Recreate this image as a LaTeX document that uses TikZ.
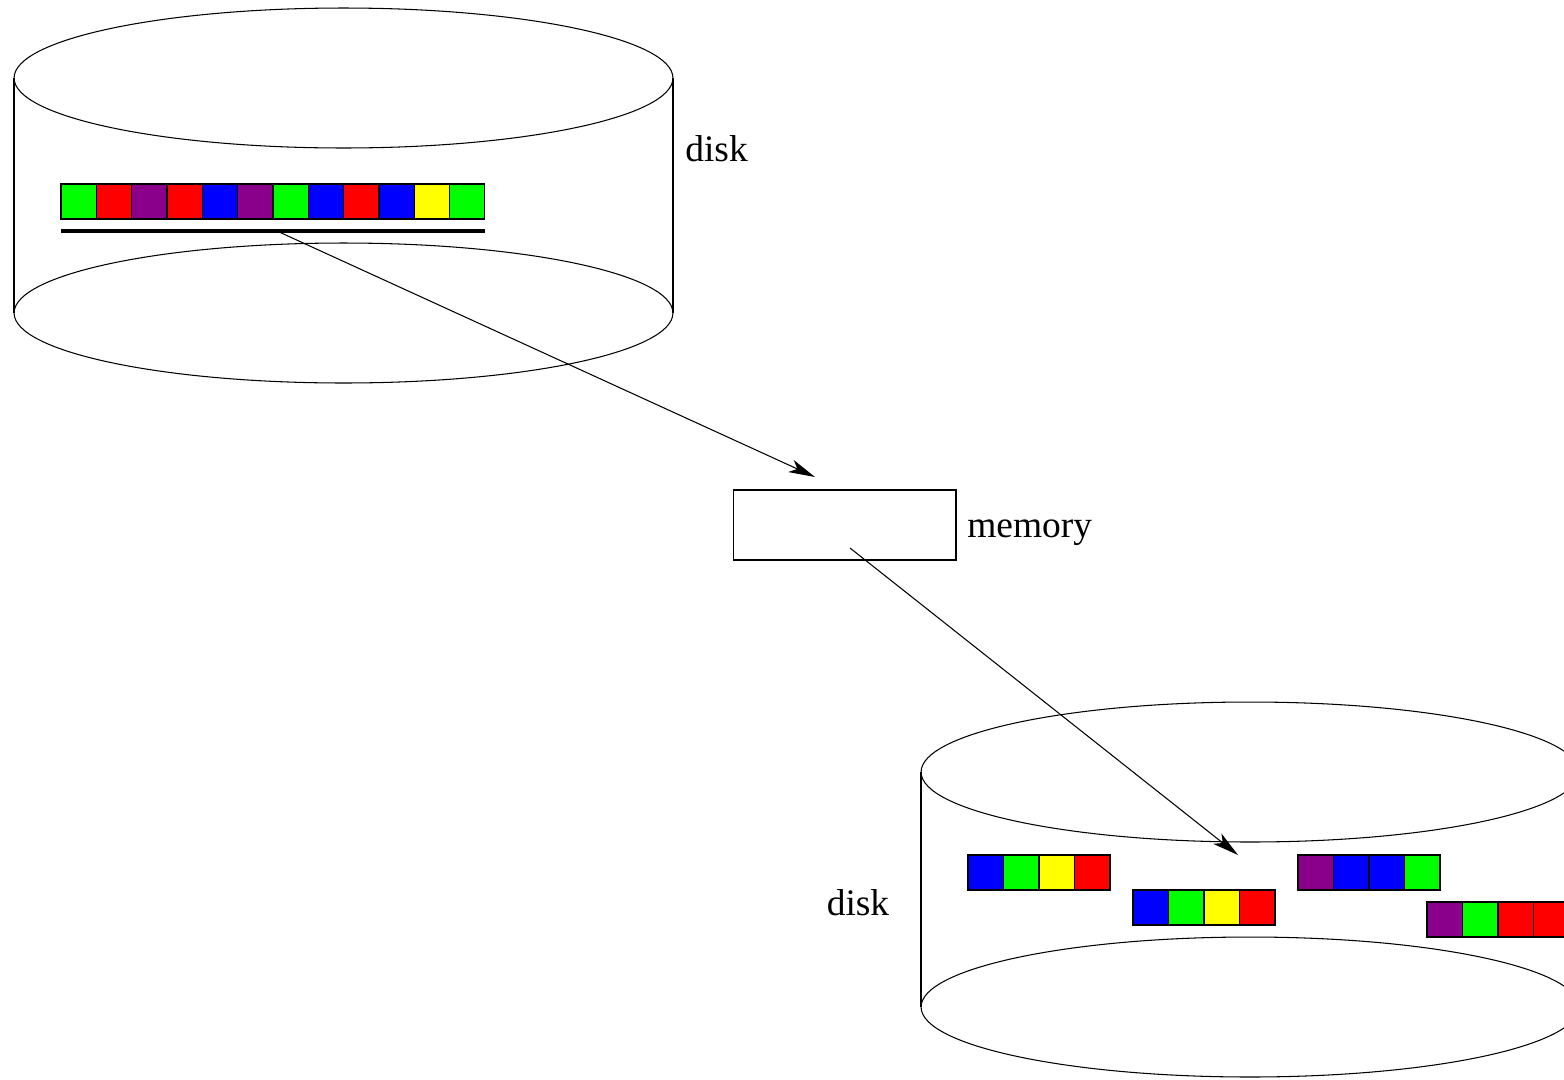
\documentclass[tikz,border=0pt]{standalone}
\usepackage{fontspec}
\setmainfont{Liberation Serif}
\usetikzlibrary{arrows.meta}
\definecolor{cgreen}{RGB}{0,255,0}
\definecolor{cred}{RGB}{255,0,0}
\definecolor{cblue}{RGB}{0,0,255}
\definecolor{cyellow}{RGB}{255,255,0}
\definecolor{cpurple}{RGB}{139,0,139}
\tikzset{
  thin line/.style={line width=0.6pt},
  cell/.style={draw=black, line width=0.6pt},
  flow/.style={thin line, -{Stealth[length=15pt, width=7.5pt, inset=4pt]}},
  label text/.style={font=\fontsize{21.3}{25}\selectfont, inner sep=0pt},
  memorybox/.style={draw, thin line, minimum width=4.46cm, minimum height=1.4cm, inner sep=0pt},
}
\begin{document}
\begin{tikzpicture}[x=0.02cm, y=-0.02cm]
  \clip (0,0) rectangle (1564,1079);
  \fill[white] (0,0) rectangle (1564,1079);

  % upper disk (source)
  \draw[thin line] (343.5,78) ellipse [x radius=6.59cm, y radius=1.4cm];
  \draw[thin line] (343.5,313) ellipse [x radius=6.59cm, y radius=1.4cm];
  \draw[thin line] (14,78) -- (14,313);
  \draw[thin line] (673,78) -- (673,313);
  \node[label text, anchor=west] (diskA) at (685,149) {disk};

  % run of records on the upper disk
  \foreach \c [count=\i from 0] in {cgreen,cred,cpurple,cred,cblue,cpurple,cgreen,cblue,cred,cblue,cyellow,cgreen}
    \filldraw[cell, fill=\c] (61+\i*35.33,184) rectangle (61+\i*35.33+35.33,219);
  \draw[line width=2.3pt] (61,231) -- (485,231);
  \coordinate (runsrc) at (277,231);

  % memory buffer
  \node[memorybox] (memory) at (844.5,525) {};
  \node[label text, anchor=base west] (memlabel) at (967,537) {memory};
  \coordinate (memin) at (815,477);
  \coordinate (memout) at (850,548);

  % lower disk (destination)
  \draw[thin line] (1250,772) ellipse [x radius=6.58cm, y radius=1.4cm];
  \draw[thin line] (1250,1007) ellipse [x radius=6.58cm, y radius=1.4cm];
  \draw[thin line] (921,772) -- (921,1007);
  \node[label text] (diskB) at (858,903) {disk};
  \coordinate (rundst) at (1238,855);

  % sorted runs written to the lower disk
  \foreach \c [count=\i from 0] in {cblue,cgreen,cyellow,cred}
    \filldraw[cell, fill=\c] (968+\i*35.5,855) rectangle (968+\i*35.5+35.5,890);
  \foreach \c [count=\i from 0] in {cblue,cgreen,cyellow,cred}
    \filldraw[cell, fill=\c] (1133+\i*35.5,890) rectangle (1133+\i*35.5+35.5,925);
  \foreach \c [count=\i from 0] in {cpurple,cblue,cblue,cgreen}
    \filldraw[cell, fill=\c] (1298+\i*35.5,855) rectangle (1298+\i*35.5+35.5,890);
  \foreach \c [count=\i from 0] in {cpurple,cgreen,cred,cred}
    \filldraw[cell, fill=\c] (1427+\i*35.5,902) rectangle (1427+\i*35.5+35.5,937);

  % data flow
  \draw[flow] (runsrc) -- (memin);
  \draw[flow] (memout) -- (rundst);
\end{tikzpicture}
\end{document}
